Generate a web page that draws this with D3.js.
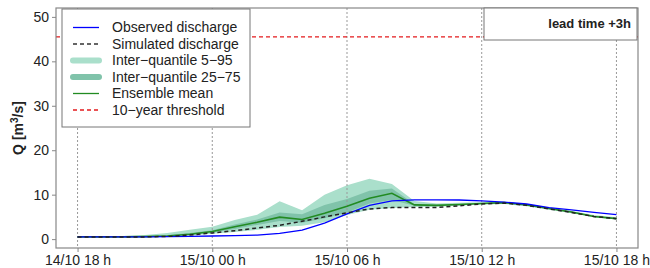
<!DOCTYPE html>
<html>
<head>
<meta charset="utf-8">
<script src="https://cdn.jsdelivr.net/npm/d3@7"></script>
<style>
  body { margin: 0; background: #fff; }
  svg { font-family: "Liberation Sans", Arial, sans-serif; }
</style>
</head>
<body>
<div id="chart"></div>
<script>
// hourly steps from 14/10 18 h to 15/10 18 h
const hours = d3.range(0, 25);
const observed  = [0.5,0.5,0.5,0.5,0.55,0.6,0.7,0.8,0.9,1.3,2.0,3.6,5.7,7.6,8.6,8.85,8.85,8.8,8.6,8.3,7.9,7.1,6.6,6.0,5.5];
const simulated = [0.45,0.45,0.45,0.5,0.6,0.9,1.4,1.9,2.5,3.1,4.0,5.0,5.9,6.8,7.1,7.1,7.1,7.5,7.9,8.1,7.6,6.8,6.0,5.1,4.6];
const ensMean   = [0.5,0.5,0.5,0.55,0.7,1.1,1.7,2.8,3.8,4.95,4.4,5.8,7.4,9.2,10.3,7.7,7.6,7.8,8.0,8.2,7.7,6.9,6.1,5.1,4.6];
const q05 = [0.4,0.4,0.4,0.45,0.55,0.8,1.2,1.6,2.1,2.7,3.0,3.8,5.4,6.6,7.0,7.2,7.3,7.5,7.8,7.9,7.4,6.6,5.8,4.9,4.4];
const q95 = [0.6,0.6,0.7,0.9,1.4,2.1,2.8,4.3,5.5,8.5,6.5,10.0,12.1,13.6,12.4,8.6,8.0,8.2,8.3,8.4,7.9,7.1,6.3,5.4,4.9];
const q25 = [0.45,0.45,0.45,0.5,0.6,1.0,1.5,2.3,3.2,4.1,3.7,4.7,6.0,8.0,8.8,7.5,7.5,7.6,7.9,8.0,7.6,6.8,6.0,5.0,4.5];
const q75 = [0.55,0.55,0.6,0.7,0.9,1.4,2.0,3.3,4.4,6.0,5.6,7.7,9.0,10.9,11.4,7.9,7.8,7.9,8.1,8.3,7.8,7.0,6.2,5.2,4.7];
const threshold = 45.5;
const yTicks = [0, 10, 20, 30, 40, 50];
const legendLabels = ["Observed discharge", "Simulated discharge", "Inter\u2212quantile 5\u221295",
                      "Inter\u2212quantile 25\u221275", "Ensemble mean", "10\u2212year threshold"];
const leadTime = "lead time +3h";

const start = Date.UTC(2014, 9, 14, 18);
const HOUR = 3600e3;
const times = hours.map(h => new Date(start + h * HOUR));
const xTicks = d3.range(0, 25, 6).map(h => new Date(start + h * HOUR));

const W = 650, H = 268;
const plot = { left: 56, right: 638, top: 8, bottom: 248 };

const svg = d3.select("#chart").append("svg")
  .attr("width", W).attr("height", H);

const pad = 0.04 * 24 * HOUR;
const x = d3.scaleUtc()
  .domain([new Date(start - pad), new Date(start + 24 * HOUR + pad)])
  .range([plot.left, plot.right]);
const y = d3.scaleLinear().domain([-2, 52]).range([plot.bottom, plot.top]);

const lightCol = "#aadfcb", darkCol = "#80c3aa";

// bands
const band = (lo, hi) => d3.area()
  .x((d, i) => x(times[i]))
  .y0((d, i) => y(lo[i]))
  .y1((d, i) => y(hi[i]));
svg.append("path").datum(hours).attr("d", band(q05, q95)).attr("fill", lightCol);
svg.append("path").datum(hours).attr("d", band(q25, q75)).attr("fill", darkCol);

// vertical dotted grid
svg.append("g").selectAll("line").data(xTicks).enter().append("line")
  .attr("x1", d => x(d)).attr("x2", d => x(d))
  .attr("y1", plot.top).attr("y2", plot.bottom)
  .attr("stroke", "#999").attr("stroke-dasharray", "2,2");

// threshold
svg.append("line")
  .attr("x1", plot.left).attr("x2", plot.right)
  .attr("y1", y(threshold)).attr("y2", y(threshold))
  .attr("stroke", "#e41a1c").attr("stroke-width", 1.2).attr("stroke-dasharray", "4,3");

const line = vals => d3.line().x((d, i) => x(times[i])).y((d, i) => y(vals[i]));
svg.append("path").datum(hours).attr("d", line(ensMean))
  .attr("fill", "none").attr("stroke", "#228b22").attr("stroke-width", 1.6);
svg.append("path").datum(hours).attr("d", line(observed))
  .attr("fill", "none").attr("stroke", "#0000ff").attr("stroke-width", 1.3);
svg.append("path").datum(hours).attr("d", line(simulated))
  .attr("fill", "none").attr("stroke", "#222").attr("stroke-width", 1.5)
  .attr("stroke-dasharray", "4,3");

// frame
svg.append("rect")
  .attr("x", plot.left).attr("y", plot.top)
  .attr("width", plot.right - plot.left).attr("height", plot.bottom - plot.top)
  .attr("fill", "none").attr("stroke", "#888").attr("stroke-width", 1.2);

// axes
const xAxis = svg.append("g")
  .attr("transform", `translate(0,${plot.bottom})`)
  .call(d3.axisBottom(x).tickValues(xTicks).tickSize(4).tickSizeOuter(0)
    .tickFormat(d3.utcFormat("%d/%m %H h")))
  .attr("font-family", null);
xAxis.select(".domain").remove();
xAxis.selectAll("line").attr("stroke", "#888");
xAxis.selectAll("text").attr("font-size", 14).attr("fill", "#222");

const yAxis = svg.append("g")
  .attr("transform", `translate(${plot.left},0)`)
  .call(d3.axisLeft(y).tickValues(yTicks).tickSize(4).tickSizeOuter(0))
  .attr("font-family", null);
yAxis.select(".domain").remove();
yAxis.selectAll("line").attr("stroke", "#888");
yAxis.selectAll("text").attr("font-size", 14).attr("fill", "#222");

// y title
const yt = svg.append("text")
  .attr("transform", `translate(23,${(plot.top + plot.bottom) / 2}) rotate(-90)`)
  .attr("text-anchor", "middle").attr("font-size", 14).attr("font-weight", "bold").attr("fill", "#222");
yt.append("tspan").text("Q [m");
yt.append("tspan").attr("dy", -5).attr("font-size", 10).text("3");
yt.append("tspan").attr("dy", 5).text("/s]");

// legend
const lg = svg.append("g");
lg.append("rect").attr("x", 62).attr("y", 9).attr("width", 188).attr("height", 118)
  .attr("fill", "#fff").attr("stroke", "#777");
const legendStyle = [
  { stroke: "#0000ff", width: 1.3 },
  { stroke: "#333", width: 1.3, dash: "4,3" },
  { stroke: lightCol, width: 6, cap: "round" },
  { stroke: darkCol, width: 6, cap: "round" },
  { stroke: "#228b22", width: 1.3 },
  { stroke: "#e41a1c", width: 1.3, dash: "4,3" }
];
legendLabels.forEach((lab, i) => {
  const cy = 27.5 + i * 16.5, s = legendStyle[i];
  lg.append("line").attr("x1", 73).attr("x2", 99).attr("y1", cy).attr("y2", cy)
    .attr("stroke", s.stroke).attr("stroke-width", s.width)
    .attr("stroke-dasharray", s.dash || null).attr("stroke-linecap", s.cap || "butt");
  lg.append("text").attr("x", 112).attr("y", cy).attr("dy", "0.35em")
    .attr("font-size", 14).attr("fill", "#222").text(lab);
});

// lead time box
svg.append("rect").attr("x", 484).attr("y", 8).attr("width", 153).attr("height", 32)
  .attr("fill", "#fff").attr("stroke", "#777");
svg.append("text").attr("x", 631).attr("y", 28).attr("text-anchor", "end")
  .attr("font-size", 13).attr("font-weight", "bold").attr("fill", "#222").text(leadTime);
</script>
</body>
</html>
